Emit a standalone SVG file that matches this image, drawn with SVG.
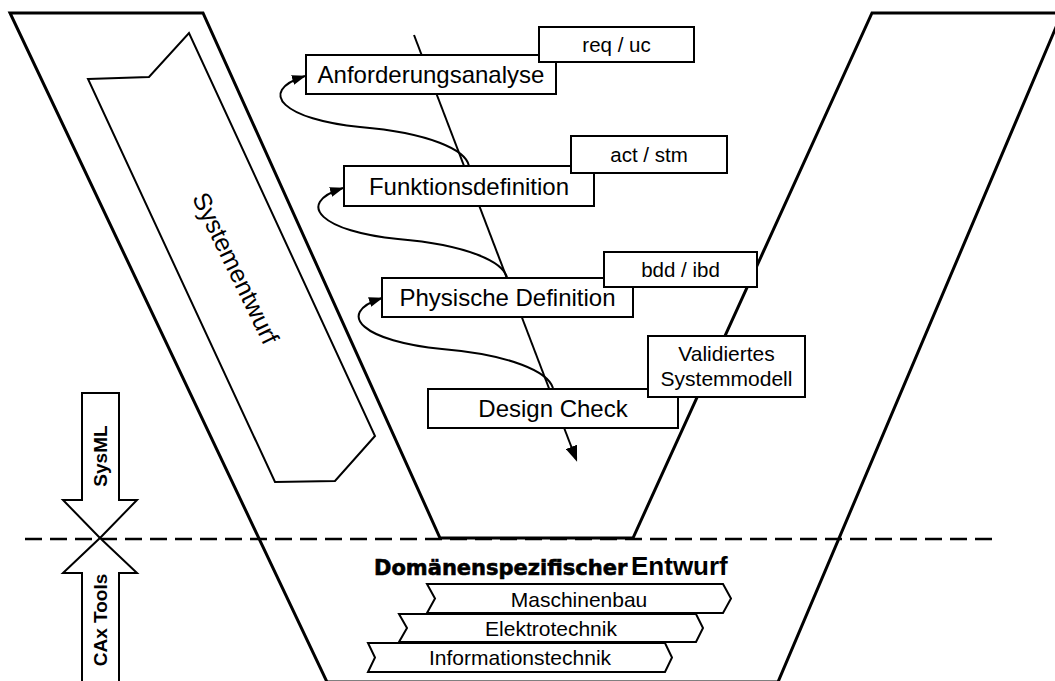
<svg xmlns="http://www.w3.org/2000/svg" width="1055" height="681" viewBox="0 0 1055 681">
<style>
.ln{fill:none;stroke:#000;stroke-width:2}
.bx{fill:#fff;stroke:#000;stroke-width:2}
.t{font-family:"Liberation Sans",Arial,sans-serif;font-size:24px;text-anchor:middle;fill:#000}
.l{font-size:20.5px}
.c{font-size:21px}
.b{font-family:"Liberation Sans",Arial,sans-serif;font-weight:bold;font-size:19px;text-anchor:middle;fill:#000}
</style>
<defs>
<marker id="ah" viewBox="0 0 14 10" refX="13" refY="5" markerWidth="14" markerHeight="10" orient="auto" markerUnits="userSpaceOnUse">
<path d="M0,0 L14,5 L0,10 z" fill="#000"/>
</marker>
<marker id="ah2" viewBox="0 0 16 12" refX="13" refY="6" markerWidth="16" markerHeight="12" orient="auto" markerUnits="userSpaceOnUse">
<path d="M0,0 L16,6 L0,12 z" fill="#000"/>
</marker>
</defs>
<rect width="1055" height="681" fill="#fff"/>
<g id="v-shape">
<polygon points="10,13 203,13 440,538 633,538 872,13 1062,13 778,682 327,682" fill="none" stroke="#000" stroke-width="3" stroke-linejoin="miter"/>
</g>
<g id="systementwurf">
<polygon points="88,79 149,77 189,33 375,436 335,481 275,482" fill="#fff" stroke="#000" stroke-width="2"/>
<text class="t" style="font-size:25px" transform="translate(236,268) rotate(64)" x="0" y="9">Systementwurf</text>
</g>
<g id="divider">
<line x1="25" y1="539" x2="1000" y2="539" stroke="#000" stroke-width="2.5" stroke-dasharray="17 8"/>
</g>
<g id="sysml">
<polygon points="82,393 119,393 119,500 137,500 100,538 63,500 82,500" class="bx"/>
<text class="b" transform="translate(107,456) rotate(-90)">SysML</text>
</g>
<g id="cax">
<polygon points="100,538 137,573 119,573 119,690 82,690 82,573 63,573" class="bx"/>
<text class="b" transform="translate(107,620) rotate(-90)">CAx Tools</text>
</g>
<g id="connectors">
<line x1="414" y1="35" x2="576" y2="459" class="ln" marker-end="url(#ah2)"/>
<path class="ln" d="M469,166 C466,150 430,133 360,127 C285,120 255,92 305,76" marker-end="url(#ah)"/>
<path class="ln" d="M507,278 C504,262 468,245 398,239 C323,232 293,204 343,188" marker-end="url(#ah)"/>
<path class="ln" d="M553,388 C548,372 512,355 442,349 C365,342 333,314 382,298" marker-end="url(#ah)"/>
</g>
<g id="anforderungsanalyse">
<rect x="306" y="55" width="250" height="39" class="bx"/>
<text class="t" x="431" y="83">Anforderungsanalyse</text>
</g>
<g id="req-uc">
<rect x="539" y="27" width="155" height="35" class="bx"/>
<text class="t l" x="616.5" y="52">req / uc</text>
</g>
<g id="funktionsdefinition">
<rect x="344" y="166" width="250" height="40" class="bx"/>
<text class="t" x="469" y="194.5">Funktionsdefinition</text>
</g>
<g id="act-stm">
<rect x="571" y="136" width="156" height="37" class="bx"/>
<text class="t l" x="649" y="161.5">act / stm</text>
</g>
<g id="physische-definition">
<rect x="382" y="278" width="251" height="39" class="bx"/>
<text class="t" x="507.5" y="306">Physische Definition</text>
</g>
<g id="bdd-ibd">
<rect x="604" y="252" width="153" height="35" class="bx"/>
<text class="t l" x="680.5" y="277">bdd / ibd</text>
</g>
<g id="design-check">
<rect x="428" y="389" width="250" height="39" class="bx"/>
<text class="t" x="553" y="417">Design Check</text>
</g>
<g id="validiertes-systemmodell">
<rect x="648" y="336" width="157" height="61" class="bx"/>
<text class="t c" x="726.5" y="361">Validiertes</text>
<text class="t c" x="726.5" y="386">Systemmodell</text>
</g>
<g id="domaenen-title">
<text x="374" y="575" style="font-family:'DejaVu Sans',sans-serif;font-weight:bold;font-size:21px;stroke:#000;stroke-width:0.6">Domänenspezifischer</text>
<text x="631" y="575" style="font-family:'Liberation Sans',Arial,sans-serif;font-weight:bold;font-size:26px">Entwurf</text>
</g>
<g id="maschinenbau">
<polygon points="427,584 723,584 731,598.5 723,613 427,613 435,598.5" class="bx"/>
<text class="t c" x="579" y="607">Maschinenbau</text>
</g>
<g id="elektrotechnik">
<polygon points="399,614 696,614 703,628 696,642 399,642 407,628" class="bx"/>
<text class="t c" x="551" y="636">Elektrotechnik</text>
</g>
<g id="informationstechnik">
<polygon points="368,643 665,643 672,657.5 665,672 368,672 375,657.5" class="bx"/>
<text class="t c" x="520" y="665">Informationstechnik</text>
</g>
</svg>
